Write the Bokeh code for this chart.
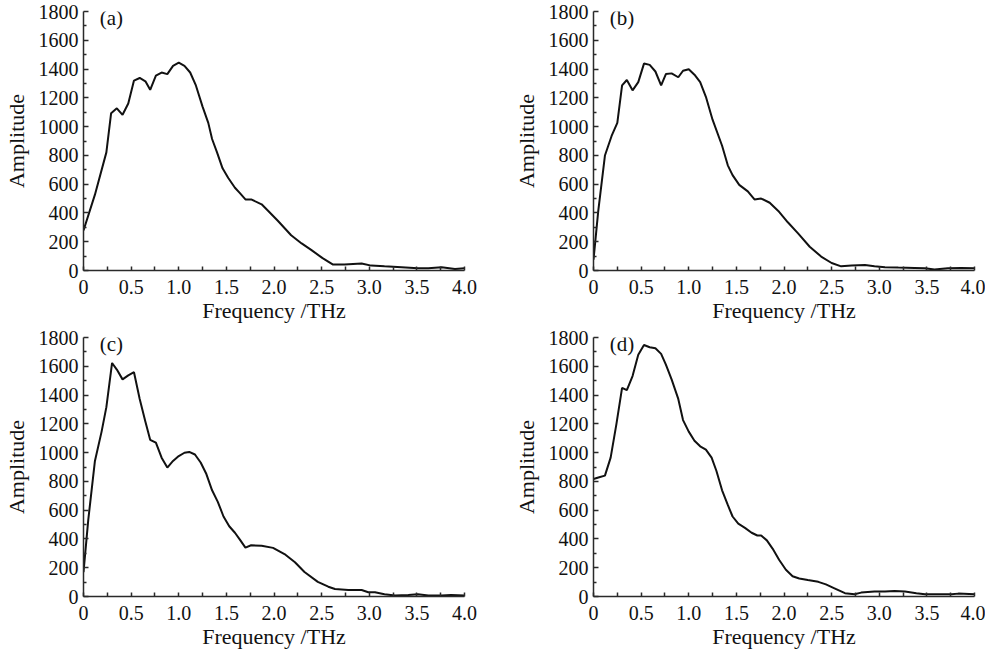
from bokeh.plotting import figure
from bokeh.layouts import column, row
from bokeh.models import Range1d, FixedTicker
from bokeh.core.properties import value
from bokeh.embed import file_html
from bokeh.resources import INLINE

# ---- data ----
freq_a = [0, 0.12, 0.24, 0.29, 0.35, 0.41, 0.47, 0.53, 0.59, 0.65, 0.70, 0.76, 0.82, 0.88, 0.94, 1.00,
          1.06, 1.12, 1.18, 1.25, 1.31, 1.35, 1.40, 1.46, 1.52, 1.59, 1.64, 1.70, 1.76, 1.87, 1.94, 2.04,
          2.18, 2.29, 2.39, 2.51, 2.62, 2.74, 2.92, 3.02, 3.16, 3.34, 3.51, 3.62, 3.76, 3.90, 4.0]
amp_a = [278, 527, 821, 1093, 1127, 1082, 1161, 1320, 1338, 1315, 1256, 1354, 1376, 1365, 1422, 1444,
         1422, 1376, 1286, 1139, 1026, 914, 824, 710, 643, 575, 539, 494, 494, 460, 414, 346,
         245, 188, 143, 86, 41, 41, 48, 34, 29, 23, 16, 16, 23, 11, 16]

freq_b = [0, 0.05, 0.12, 0.19, 0.25, 0.30, 0.35, 0.41, 0.47, 0.53, 0.59, 0.65, 0.71, 0.76, 0.82, 0.89,
          0.94, 1.00, 1.06, 1.12, 1.18, 1.25, 1.35, 1.41, 1.46, 1.53, 1.62, 1.69, 1.76, 1.85, 1.94, 2.04,
          2.15, 2.27, 2.39, 2.50, 2.60, 2.71, 2.85, 2.95, 3.06, 3.20, 3.37, 3.48, 3.58, 3.72, 3.86, 4.0]
amp_b = [75, 414, 799, 935, 1026, 1286, 1324, 1252, 1309, 1438, 1429, 1383, 1286, 1365, 1370, 1343,
         1388, 1399, 1361, 1309, 1207, 1048, 867, 731, 663, 595, 550, 494, 500, 471, 414, 335,
         256, 165, 97, 52, 29, 34, 38, 29, 23, 20, 18, 16, 7, 16, 18, 16]

freq_c = [0, 0.05, 0.12, 0.19, 0.24, 0.30, 0.35, 0.41, 0.47, 0.53, 0.59, 0.65, 0.70, 0.76, 0.82, 0.88,
          0.94, 1.00, 1.06, 1.11, 1.17, 1.23, 1.29, 1.35, 1.41, 1.47, 1.53, 1.59, 1.64, 1.70, 1.76, 1.87,
          1.99, 2.11, 2.22, 2.32, 2.46, 2.57, 2.64, 2.78, 2.92, 2.99, 3.06, 3.16, 3.27, 3.41, 3.51, 3.62,
          3.76, 3.86, 4.0]
amp_c = [170, 533, 942, 1146, 1316, 1623, 1577, 1509, 1537, 1559, 1373, 1214, 1089, 1069, 965, 896,
         942, 976, 999, 1005, 987, 931, 851, 738, 658, 556, 488, 443, 397, 340, 356, 352,
         338, 295, 238, 170, 102, 68, 52, 45, 45, 30, 30, 16, 7, 11, 16, 7,
         7, 11, 7]

freq_d = [0, 0.06, 0.12, 0.18, 0.24, 0.30, 0.35, 0.41, 0.47, 0.53, 0.59, 0.65, 0.71, 0.76, 0.82, 0.89,
          0.94, 1.00, 1.06, 1.12, 1.18, 1.24, 1.29, 1.35, 1.41, 1.46, 1.52, 1.59, 1.66, 1.72, 1.76, 1.82,
          1.88, 1.95, 2.02, 2.09, 2.16, 2.25, 2.36, 2.44, 2.53, 2.64, 2.74, 2.81, 2.95, 3.06, 3.16, 3.27,
          3.39, 3.48, 3.62, 3.76, 3.83, 4.0]
amp_d = [817, 829, 840, 965, 1196, 1450, 1434, 1532, 1680, 1748, 1732, 1725, 1686, 1611, 1509, 1373,
         1226, 1146, 1083, 1044, 1021, 965, 874, 738, 636, 556, 506, 477, 443, 424, 424, 390,
         333, 254, 186, 141, 125, 114, 102, 84, 57, 23, 16, 27, 34, 34, 39, 34,
         23, 16, 16, 16, 20, 16]

panel_tags = ["(a)", "(b)", "(c)", "(d)"]
x_ticks = [0, 0.5, 1.0, 1.5, 2.0, 2.5, 3.0, 3.5, 4.0]
x_tick_labels = ["0", "0.5", "1.0", "1.5", "2.0", "2.5", "3.0", "3.5", "4.0"]
x_minor = [0.25, 0.75, 1.25, 1.75, 2.25, 2.75, 3.25, 3.75]
y_ticks = [0, 200, 400, 600, 800, 1000, 1200, 1400, 1600, 1800]
y_minor = [100, 300, 500, 700, 900, 1100, 1300, 1500, 1700]
x_title = "Frequency /THz"
y_title = "Amplitude"

FONT = "Liberation Serif"
AXIS_COL = "#2a2a2a"


def make_panel(xs, ys, tag, left, right, top, bottom):
    p = figure(frame_width=381, frame_height=259,
               x_range=Range1d(0, 4), y_range=Range1d(0, 1800),
               output_backend="svg", toolbar_location=None,
               min_border_left=left, min_border_right=right,
               min_border_top=top, min_border_bottom=bottom)
    p.outline_line_color = None
    p.grid.visible = False
    p.background_fill_color = "white"
    p.border_fill_color = "white"

    p.line(xs, ys, line_color="#111111", line_width=2)
    p.text(x=[0.17], y=[1752], text=[tag], text_baseline="middle", text_align="left",
           text_font=value(FONT), text_font_size="21px", text_color="#111111")

    xa = p.xaxis[0]
    xa.ticker = FixedTicker(ticks=x_ticks, minor_ticks=x_minor)
    xa.major_label_overrides = {t: l for t, l in zip(x_ticks, x_tick_labels)}
    xa.axis_label = x_title
    ya = p.yaxis[0]
    ya.ticker = FixedTicker(ticks=y_ticks, minor_ticks=y_minor)
    ya.axis_label = y_title

    for ax in (xa, ya):
        ax.axis_line_color = AXIS_COL
        ax.axis_line_width = 1.5
        ax.major_tick_line_color = AXIS_COL
        ax.minor_tick_line_color = AXIS_COL
        ax.major_tick_line_width = 1.5
        ax.minor_tick_line_width = 1.5
        ax.major_tick_out = 0
        ax.minor_tick_out = 0
        ax.major_label_text_font = FONT
        ax.major_label_text_font_size = "20px"
        ax.major_label_text_color = "#111111"
        ax.axis_label_text_font = FONT
        ax.axis_label_text_font_size = "22px"
        ax.axis_label_text_font_style = "normal"
        ax.axis_label_text_color = "#111111"
    xa.major_tick_in = 4
    xa.minor_tick_in = 4
    xa.major_label_standoff = 9
    xa.axis_label_standoff = 1
    ya.major_tick_in = 5
    ya.minor_tick_in = 3
    ya.major_label_standoff = 5
    ya.axis_label_standoff = 7
    return p


pa = make_panel(freq_a, amp_a, panel_tags[0], 74, 33, 11, 53)
pb = make_panel(freq_b, amp_b, panel_tags[1], 96, 11, 11, 53)
pc = make_panel(freq_c, amp_c, panel_tags[2], 74, 33, 12, 52)
pd = make_panel(freq_d, amp_d, panel_tags[3], 96, 11, 12, 52)

layout = column(row(pa, pb, spacing=0), row(pc, pd, spacing=0), spacing=0)

with open("out.html", "w") as f:
    f.write(file_html(layout, INLINE))
